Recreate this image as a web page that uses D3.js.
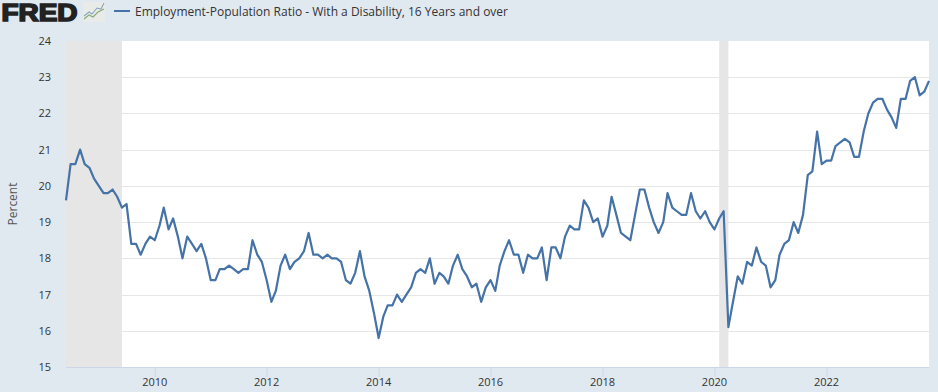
<!DOCTYPE html>
<html><head><meta charset="utf-8">
<script src="https://cdn.jsdelivr.net/npm/d3@7"></script>
<style>html,body{margin:0;padding:0;background:#e1e9f0}svg{display:block}</style>
</head><body><svg id="c" width="938" height="392"></svg>
<script>
const startMonth = "2008-06-01";
const seriesName = "Employment-Population Ratio - With a Disability, 16 Years and over";
const yTicks = [15,16,17,18,19,20,21,22,23,24];
const xTickYears = [2010,2012,2014,2016,2018,2020,2022];
const recessions = [["2008-06-01","2009-06-01"],["2020-02-01","2020-04-01"]];
const values = [
19.6,20.6,20.6,21.0,20.6,20.5,20.2,
20.0,19.8,19.8,19.9,19.7,19.4,19.5,18.4,18.4,18.1,18.4,18.6,
18.5,18.9,19.4,18.8,19.1,18.6,18.0,18.6,18.4,18.2,18.4,18.0,
17.4,17.4,17.7,17.7,17.8,17.7,17.6,17.7,17.7,18.5,18.1,17.9,
17.4,16.8,17.1,17.8,18.1,17.7,17.9,18.0,18.2,18.7,18.1,18.1,
18.0,18.1,18.0,18.0,17.9,17.4,17.3,17.6,18.2,17.5,17.1,16.5,
15.8,16.4,16.7,16.7,17.0,16.8,17.0,17.2,17.6,17.7,17.6,18.0,
17.3,17.6,17.5,17.3,17.8,18.1,17.7,17.5,17.2,17.3,16.8,17.2,
17.4,17.1,17.8,18.2,18.5,18.1,18.1,17.6,18.1,18.0,18.0,18.3,
17.4,18.3,18.3,18.0,18.6,18.9,18.8,18.8,19.6,19.4,19.0,19.1,
18.6,18.9,19.7,19.2,18.7,18.6,18.5,19.2,19.9,19.9,19.4,19.0,
18.7,19.0,19.8,19.4,19.3,19.2,19.2,19.8,19.3,19.1,19.3,19.0,
18.8,19.1,19.3,16.1,16.8,17.5,17.3,17.9,17.8,18.3,17.9,17.8,
17.2,17.4,18.1,18.4,18.5,19.0,18.7,19.2,20.3,20.4,21.5,20.6,
20.7,20.7,21.1,21.2,21.3,21.2,20.8,20.8,21.5,22.0,22.3,22.4,
22.4,22.1,21.9,21.6,22.4,22.4,22.9,23.0,22.5,22.6,22.9];

const font = "'Open Sans', sans-serif";
const svg = d3.select("#c");
const parse = d3.utcParse("%Y-%m-%d");
const t0 = parse(startMonth);
const dates = values.map((_, i) => d3.utcMonth.offset(t0, i));
const L = 66, R = 929, T = 41, B = 367;
const x = d3.scaleUtc().domain([t0, dates[dates.length - 1]]).range([L, R]);
const y = d3.scaleLinear().domain([15, 24]).range([B, T]);

svg.append("rect").attr("width", 938).attr("height", 392).attr("fill", "#e1e9f0");
svg.append("rect").attr("x", L).attr("y", T).attr("width", R - L).attr("height", B - T).attr("fill", "#fff");

svg.append("g").selectAll("rect").data(recessions).join("rect")
  .attr("x", d => x(parse(d[0])))
  .attr("width", d => x(parse(d[1])) - x(parse(d[0])))
  .attr("y", T).attr("height", B - T).attr("fill", "#e6e6e6");

svg.append("g").selectAll("line").data(yTicks.filter(v => v > 15 && v < 24)).join("line")
  .attr("x1", L).attr("x2", R)
  .attr("y1", d => Math.round(y(d)) + 0.5).attr("y2", d => Math.round(y(d)) + 0.5)
  .attr("stroke", "#e6e6e6").attr("stroke-width", 1);

const yAxis = svg.append("g").attr("transform", `translate(${L},0)`)
  .call(d3.axisLeft(y).tickValues(yTicks).tickSize(0).tickPadding(15));
yAxis.select(".domain").remove();
yAxis.selectAll("text").attr("font-family", font).attr("font-size", 11).attr("fill", "#333");

const xAxis = svg.append("g").attr("transform", `translate(0,${B})`)
  .call(d3.axisBottom(x).tickValues(xTickYears.map(v => new Date(Date.UTC(v, 0, 1))))
    .tickFormat(d3.utcFormat("%Y")).tickSize(10).tickPadding(1).tickSizeOuter(0));
xAxis.select(".domain").attr("stroke", "#ccd6eb").attr("d", `M${L},0.5H${R}`);
xAxis.selectAll("line").attr("stroke", "#ccd6eb");
xAxis.selectAll("text").attr("font-family", font).attr("font-size", 11).attr("fill", "#333").attr("dx", -0.5);

svg.append("text").attr("transform", "translate(17,204) rotate(-90)")
  .attr("text-anchor", "middle").attr("font-family", font).attr("font-size", 12)
  .attr("fill", "#555").text("Percent");

const line = d3.line().x((d, i) => x(dates[i])).y(d => y(d));
svg.append("path").datum(values).attr("d", line).attr("fill", "none")
  .attr("stroke", "#4572a7").attr("stroke-width", 2.2).attr("stroke-linejoin", "round");

// header: logo and legend
svg.append("text").attr("x", 1.5).attr("y", 20.5).attr("font-family", "'Liberation Sans', sans-serif")
  .attr("font-weight", 700).attr("font-size", 23).attr("stroke", "#222").attr("stroke-width", 1.6)
  .attr("textLength", 76).attr("lengthAdjust", "spacingAndGlyphs").attr("fill", "#222").text("FRED");
svg.append("rect").attr("x", 83).attr("y", 2).attr("width", 22).attr("height", 20).attr("rx", 1).attr("fill", "#e9ebe8");
svg.append("path").attr("d", "M84,16L89,12L92,14L97,8L101,9L104,3").attr("fill", "none").attr("stroke", "#8aa5c0").attr("stroke-width", 1.1);
svg.append("path").attr("d", "M84,19L89,15L93,17L98,12L104,9").attr("fill", "none").attr("stroke", "#86ab76").attr("stroke-width", 1.1);
svg.append("line").attr("x1", 114).attr("x2", 130).attr("y1", 11).attr("y2", 11).attr("stroke", "#4572a7").attr("stroke-width", 2);
svg.append("text").attr("x", 135).attr("y", 16).attr("font-family", font).attr("font-size", 12)
  .attr("fill", "#333").text(seriesName);
</script></body></html>
